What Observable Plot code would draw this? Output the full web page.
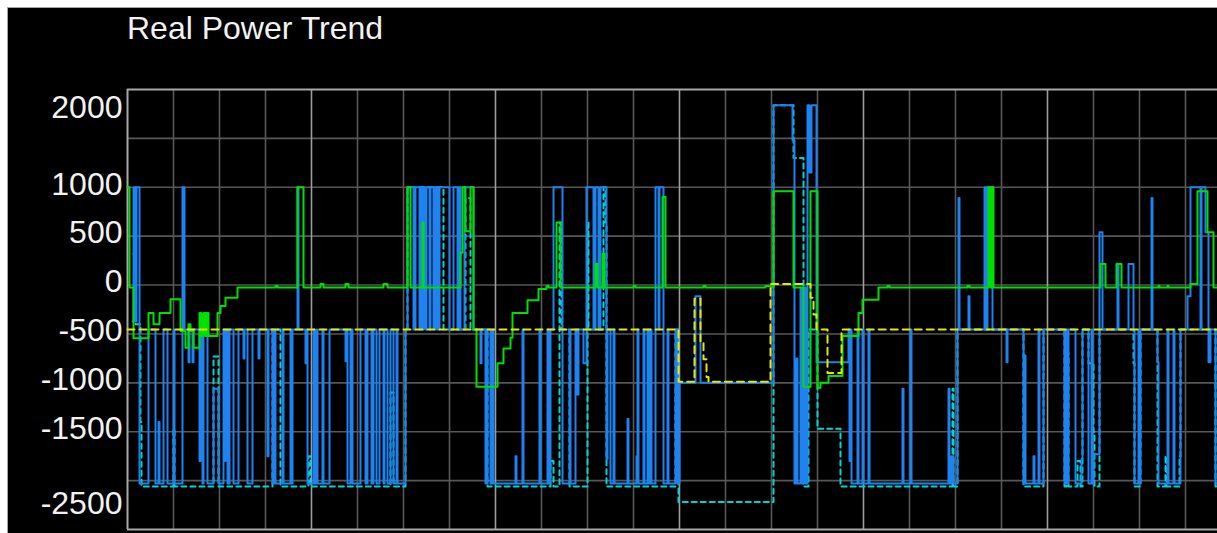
<!DOCTYPE html>
<html>
<head>
<meta charset="utf-8">
<script src="https://cdn.jsdelivr.net/npm/d3@7"></script>
<script src="https://cdn.jsdelivr.net/npm/@observablehq/plot@0.6"></script>
<style>
  html, body { margin: 0; padding: 0; background: #ffffff; overflow: hidden; width: 1217px; height: 533px; }
  #panel { position: absolute; left: 7px; top: 7px; width: 1209px; height: 525px; background: #000;
           border-left: 1px solid #a4a4a4; border-top: 1px solid #a4a4a4; overflow: hidden; }
  #title { position: absolute; left: 119px; top: 4px; font: 32px/32px "Liberation Sans", Arial, sans-serif;
           color: #f2f2f2; white-space: nowrap; }
  #chart { position: absolute; left: 0; top: 52px; }
</style>
</head>
<body>
<div id="panel">
  <div id="title">Real Power Trend</div>
  <div id="chart"></div>
</div>
<script>
// x = sample index (one sample per trend pixel column), y = real power
const tickLabels = ["2000", "1000", "500", "0", "-500", "-1000", "-1500", "-2500"];
const tickPos    = [1785, 1000, 500, 0, -500, -1000, -1500, -2264];

// blue: measured real power (step samples [sample, value])
const blue = [
  [5,-370],[6,1000],[8,-370],[9,1000],[12,-2030],
  [21,-455],[28,-2030],[31,-1400],[32,-2030],[36,-455],[40,-2030],[46,-455],[47,-2030],
  [55,1000],[57,-455],[61,-790],[62,-455],[65,-790],[66,-455],[72,-1800],[73,-455],[75,-2030],[76,-455],[80,-2030],
  [86,-1060],[91,-2030],[96,-455],[97,-1800],[98,-455],[100,-2030],[102,-455],[106,-2030],[111,-455],[116,-750],[117,-455],
  [120,-2030],[125,-455],[131,-750],[132,-455],[140,-1750],[141,-455],[145,-2030],[147,-455],[148,-2030],[155,-455],[156,-2030],
  [163,-455],[164,-2030],[165,-455],[170,1000],[171,-455],[178,-800],[179,-455],[180,-2030],[186,-455],[187,-2030],[189,-455],
  [190,-2030],[195,-455],[196,-2030],[202,-455],[218,-780],[219,-455],[220,-2030],[223,-455],[225,-2030],[233,-455],
  [238,-2030],[240,-455],[244,-2030],[246,-455],[249,-2030],[252,-455],[256,-2030],[257,-455],[260,-2030],[263,-455],
  [266,-2030],[269,-455],[270,-2030],[278,-455],
  [280,1000],[286,-455],[288,1000],[292,-455],[293,1000],[295,-455],[296,1000],[298,-455],[299,1000],[302,-455],[303,1000],
  [306,-455],[307,1000],[309,-455],[310,1000],[311,-455],[312,1000],[322,-455],[326,1000],[330,-455],[331,1000],[333,-455],
  [337,1000],[346,-455],[353,-800],[354,-455],[358,-2030],[360,-455],[363,-2030],[365,-455],[366,-2030],
  [388,-1750],[389,-2030],[395,-455],[396,-2030],[412,-455],[413,-2030],[420,-455],[421,-2030],[423,-455],[426,1000],
  [435,-2030],[442,-455],[443,-2030],[448,-455],[449,-1120],[451,-455],[456,-800],[459,1000],[466,-455],[468,1000],
  [471,-455],[473,1000],[479,-1780],[480,-455],[483,-2030],[486,-455],[487,-2030],[500,-1370],[501,-2030],[509,-1750],
  [510,-455],[511,-2030],[516,-455],[517,-2030],[520,-455],[521,-2030],[523,-455],[524,-2030],[528,1000],[531,-455],
  [532,1000],[536,-2030],[540,-455],[541,-2030],[548,-455],[550,-2030],[552,-1000],[568,-115],[573,-1000],
  [646,1840],[665,1480],[667,-2030],[669,-750],[670,-2030],[673,-25],[674,-2030],[676,-25],[678,-2030],[680,1840],
  [682,1150],[684,1840],[689,-790],[721,-455],[722,-1800],[723,-455],[724,-2030],[730,-455],[731,-2030],[735,-455],
  [736,-2030],[741,-455],[742,-2030],[775,-1060],[776,-2030],[783,-455],[784,-2030],[821,-1060],[822,-2030],[824,-1750],
  [826,-2030],[830,-455],[831,890],[832,-455],[841,-115],[842,-455],[857,1000],[859,-455],[860,1000],[865,-455],
  [879,-790],[880,-455],[896,-2030],[897,-720],[898,-2030],[906,-1750],[907,-2030],[911,-455],[912,-2030],[916,-455],
  [937,-2030],[939,-455],[940,-2030],[941,-455],[948,-2030],[954,-1780],[955,-455],[961,-2030],[964,-455],[965,-2030],
  [966,-1730],[972,540],[975,-455],[990,215],[991,-455],[1001,215],[1006,-455],[1007,-2030],[1011,-455],[1012,-2030],
  [1013,-455],[1024,890],[1025,-455],[1030,-790],[1031,-2030],[1040,-455],[1041,-2030],[1046,-455],[1047,-2030],
  [1053,-455],[1060,-115],[1063,1000],[1073,-455],[1074,1000],[1078,540],[1081,-790],[1083,-455],[1088,-2030],[1090,-2030]
];

// green: second power signal
const green = [
  [0,1000],[2,-25],[6,-545],[21,-285],[26,-400],[32,-285],[43,-145],[53,-470],[58,-640],[61,-400],[63,-470],[66,-640],
  [72,-285],[74,-520],[76,-285],[78,-520],[79,-285],[81,-520],[90,-285],[93,-215],[98,-130],[110,-25],[148,-10],[150,-25],
  [170,1000],[176,-25],[193,10],[196,-25],[218,10],[221,-25],[256,10],[260,-25],[280,1000],[283,-25],[295,640],[296,-25],
  [333,330],[335,1000],[338,550],[343,1000],[346,-455],[349,-1040],[370,-800],[376,-650],[383,-540],[385,-285],[400,-155],
  [411,-40],[419,-10],[421,-25],[429,640],[433,-25],[468,215],[470,-25],[475,318],[477,-25],[506,-10],[508,-25],
  [535,900],[538,-25],[576,-10],[578,-25],[638,-10],[643,-25],[646,960],[666,-25],[676,-1040],[683,960],[690,-1050],
  [693,-1000],[701,-930],[715,-520],[731,-285],[735,-150],[751,-25],[760,-10],[762,-25],[840,-10],[842,-25],
  [861,1000],[863,-25],[864,1000],[866,-25],[973,215],[978,-25],[989,215],[994,-25],[1031,-10],[1032,-25],
  [1040,-10],[1041,-25],[1063,10],[1070,960],[1080,540],[1086,-25],[1090,-25]
];

// cyan (dashed): reference power
const cyan = [
  [6,320],[8,-400],[13,-1400],[14,-2060],[46,-1470],[47,-2060],[86,-730],[91,-2060],[145,-455],[153,-2060],
  [181,-1750],[183,-2060],[263,-1100],[266,-2060],[278,-455],[280,1000],[316,-455],[338,890],[343,-455],[360,-2060],
  [423,-1800],[426,-2060],[432,640],[434,-455],[442,-2060],[460,640],[461,-455],[476,1000],[478,640],[479,-2060],
  [548,-455],[551,-2220],[646,1840],[666,1300],[676,-2060],[681,-455],[690,-1470],[713,-2060],[825,-1060],[826,-2060],
  [830,-455],[896,-2060],[916,-455],[937,-2060],[939,-700],[941,-2060],[950,-1800],[953,-2060],[955,-455],[961,-800],
  [966,-1500],[967,-2060],[972,-455],[1006,-800],[1007,-2060],[1013,-455],[1030,-2060],[1038,-1750],[1039,-2060],
  [1052,-1750],[1053,-455],[1088,-2060],[1090,-2060]
];

// yellow (dashed): limit / setpoint
const yellow = [
  [0,-455],[551,-990],[567,-140],[573,-580],[576,-760],[579,-940],[581,-990],[643,10],[683,-130],[686,-300],
  [689,-455],[700,-900],[714,-455],[1090,-455]
];

const gridStepX = 46, majorStepX = 184;
const minorX = d3.range(gridStepX, 1091, gridStepX).filter(v => v % majorStepX !== 0);
const majorX = d3.range(majorStepX, 1091, majorStepX);
const gridY = d3.range(-2000, 2000, 500);

const fontFamily = '"Liberation Sans", Arial, sans-serif';
const lineOpts = (color, extra = {}) => ({x: d => d[0], y: d => d[1], curve: "step-after", stroke: color, strokeWidth: 2, ...extra});

const chart = Plot.plot({
  width: 1209,
  height: 473,
  marginLeft: 119,
  marginRight: 0,
  marginTop: 29,
  marginBottom: 4,
  x: {domain: [0, 1090], axis: null},
  y: {domain: [-2500, 2000], axis: null},
  style: {background: "#000", fontFamily, overflow: "visible"},
  marks: [
    Plot.ruleY(gridY, {stroke: "#575757", strokeWidth: 1.6}),
    Plot.ruleX(minorX, {stroke: "#575757", strokeWidth: 1.6}),
    Plot.ruleX(majorX, {stroke: "#9c9c9c", strokeWidth: 1.6}),
    Plot.ruleY([2000, -2500], {stroke: "#a8a8a8", strokeWidth: 2}),
    Plot.ruleX([0], {stroke: "#a8a8a8", strokeWidth: 2}),
    Plot.line(cyan, lineOpts("#00d4d4", {strokeDasharray: "5,4"})),
    Plot.line(blue, lineOpts("#1e82f0")),
    Plot.line(green, lineOpts("#00e000")),
    Plot.line(yellow, lineOpts("#e6e600", {strokeDasharray: "7,5"})),
    Plot.text(tickLabels, {y: tickPos, text: d => d, frameAnchor: "left", textAnchor: "end",
      dx: -5, dy: -3, fill: "#f2f2f2", fontSize: 32, fontFamily})
  ]
});
document.getElementById("chart").append(chart);
</script>
</body>
</html>
